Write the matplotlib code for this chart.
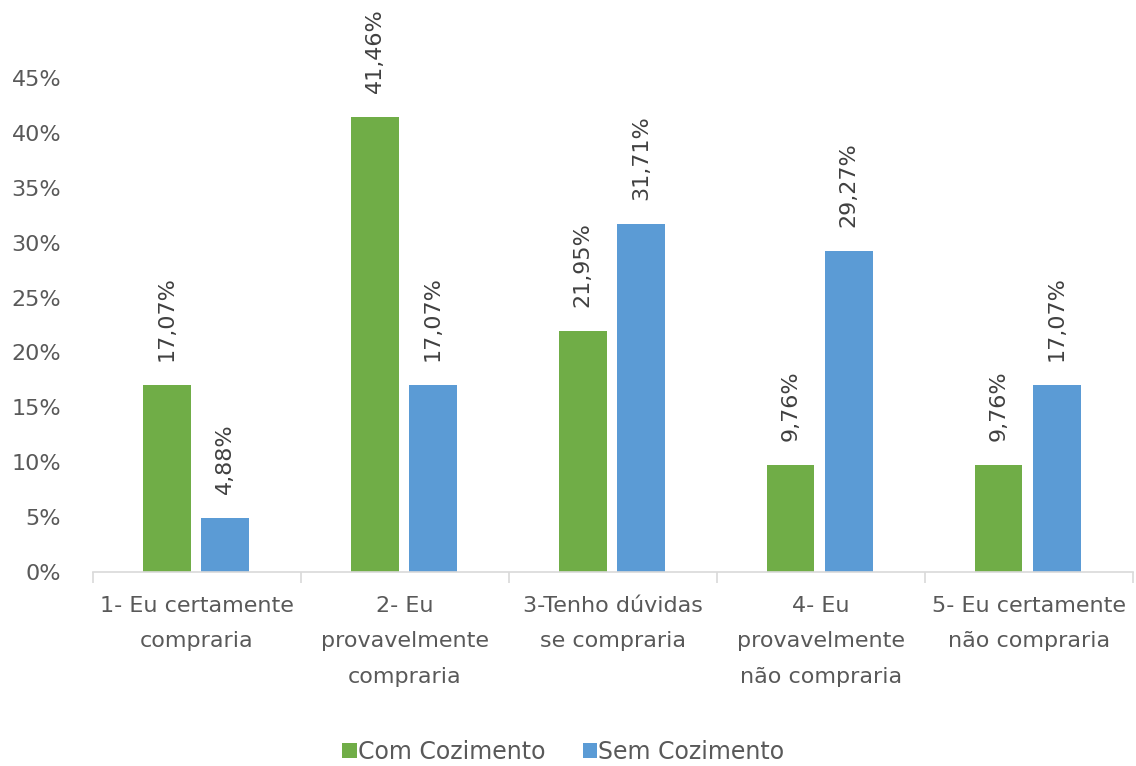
import matplotlib
matplotlib.use("Agg")
import matplotlib.pyplot as plt
import numpy as np
from matplotlib.ticker import FuncFormatter, FixedLocator

categories = ["1- Eu certamente\ncompraria", "2- Eu\nprovavelmente\ncompraria",
              "3-Tenho dúvidas\nse compraria", "4- Eu\nprovavelmente\nnão compraria",
              "5- Eu certamente\nnão compraria"]
com_cozimento = [17.07, 41.46, 21.95, 9.76, 9.76]
sem_cozimento = [4.88, 17.07, 31.71, 29.27, 17.07]
series_names = ["Com Cozimento", "Sem Cozimento"]
yticks = [0, 5, 10, 15, 20, 25, 30, 35, 40, 45]

green = "#70AD47"
blue = "#5B9BD5"
txt = "#595959"

plt.rcParams['font.family'] = ['DejaVu Sans']

fig = plt.figure(figsize=(11.36, 7.66), dpi=100)
ax = fig.add_axes([0.0819, 0.2533, 0.9151, 0.6447])

x = np.arange(len(categories))
w = 0.23
b1 = ax.bar(x - 0.145, com_cozimento, w, color=green, label=series_names[0])
b2 = ax.bar(x + 0.135, sem_cozimento, w, color=blue, label=series_names[1])

for bars, vals in ((b1, com_cozimento), (b2, sem_cozimento)):
    for r, v in zip(bars, vals):
        ax.annotate(f"{v:.2f}%".replace(".", ","),
                    (r.get_x() + r.get_width() / 2, v),
                    xytext=(0, 24), textcoords="offset pixels",
                    rotation=90, ha="center", va="bottom",
                    fontsize=16, color="#404040")

ax.set_xlim(-0.5, len(categories) - 0.5)
ax.set_ylim(0, 45)
ax.set_yticks(yticks)
ax.yaxis.set_major_formatter(FuncFormatter(lambda v, p: f"{int(v)}%"))
ax.set_xticks(x)
ax.set_xticklabels(categories, fontsize=16, color=txt, linespacing=1.97)
ax.xaxis.set_minor_locator(FixedLocator(np.arange(-0.5, len(categories), 1.0)))
ax.tick_params(axis='x', which='major', length=0, pad=17)
ax.tick_params(axis='x', which='minor', length=8, color="#D9D9D9", width=1.2)
ax.tick_params(axis='y', length=0, labelsize=16, labelcolor=txt, pad=23)

for s in ["top", "right", "left"]:
    ax.spines[s].set_visible(False)
ax.spines["bottom"].set_color("#D9D9D9")
ax.spines["bottom"].set_linewidth(1.2)

leg = fig.legend(loc="center", bbox_to_anchor=(0.496, (766 - 752) / 766), ncol=2, frameon=False,
                 fontsize=17, handlelength=0.6, handleheight=0.6, handletextpad=0.05,
                 columnspacing=1.6, bbox_transform=fig.transFigure)
for t in leg.get_texts():
    t.set_color(txt)

fig.savefig("out.png", dpi=100)
